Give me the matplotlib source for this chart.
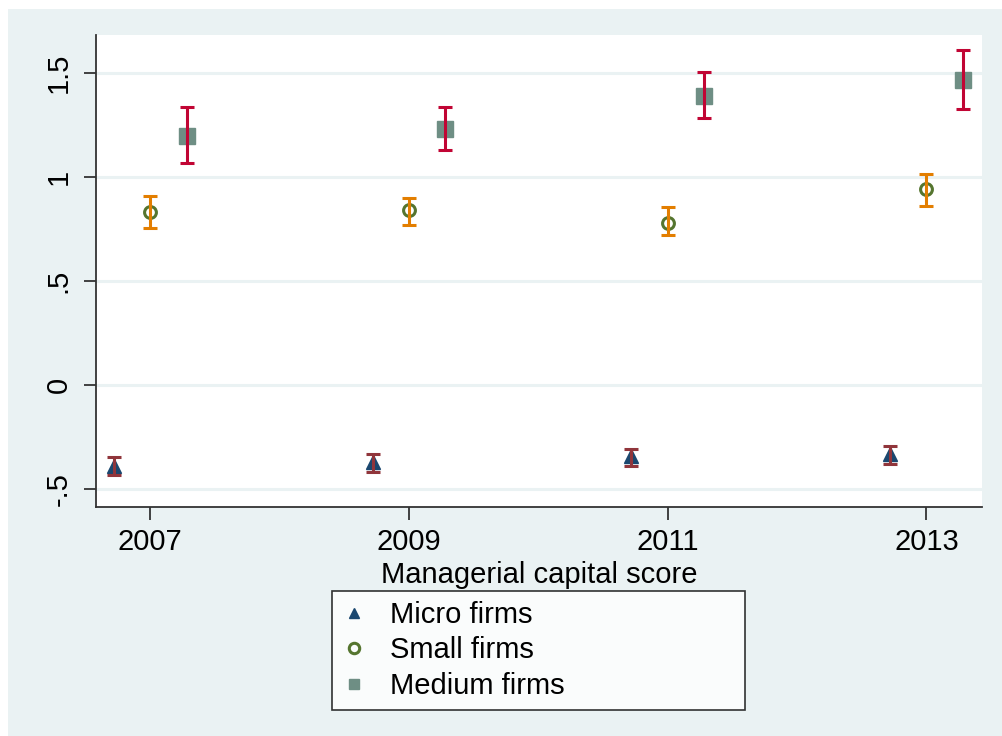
import matplotlib.pyplot as plt
from matplotlib.patches import Rectangle

plt.rcParams['font.family'] = ['Liberation Sans', 'DejaVu Sans']

YEARS = [2007, 2009, 2011, 2013]

MICRO = [-0.39, -0.37, -0.34, -0.33]
MICRO_LO = [-0.433, -0.42, -0.39, -0.38]
MICRO_HI = [-0.346, -0.33, -0.31, -0.295]

SMALL = [0.83, 0.84, 0.78, 0.94]
SMALL_LO = [0.755, 0.77, 0.72, 0.86]
SMALL_HI = [0.91, 0.90, 0.855, 1.014]

MEDIUM = [1.197, 1.23, 1.39, 1.466]
MEDIUM_LO = [1.067, 1.13, 1.284, 1.327]
MEDIUM_HI = [1.336, 1.336, 1.505, 1.61]

BG = '#eaf2f3'
FS = 21

fig = plt.figure(figsize=(10.02, 7.36), dpi=100)
fig.patch.set_facecolor('white')
fig.patches.append(Rectangle((8 / 1002, 0), 1, 1 - 9 / 736, transform=fig.transFigure,
                             facecolor=BG, edgecolor='none', zorder=-10))

ax = fig.add_axes([96 / 1002, 1 - 507 / 736, (982 - 96) / 1002, (507 - 35) / 736])
ax.set_facecolor('white')


def draw(offset, vals, lo, hi, bar_color, **mk):
    xs = [y + offset for y in YEARS]
    err = [[v - l for v, l in zip(vals, lo)], [h - v for v, h in zip(vals, hi)]]
    ax.errorbar(xs, vals, yerr=err, fmt='none', ecolor=bar_color, elinewidth=2.2,
                capsize=5.2, capthick=2.2, zorder=5)
    return ax.plot(xs, vals, linestyle='none', zorder=4, **mk)[0]


h1 = draw(-0.28, MICRO, MICRO_LO, MICRO_HI, '#90353b',
          marker='^', markersize=9.5, color='#1a476f')
h2 = draw(0.0, SMALL, SMALL_LO, SMALL_HI, '#e37e00',
          marker='o', markersize=8.5, markerfacecolor='none', markeredgecolor='#55752f',
          markeredgewidth=2.2)
h3 = draw(0.28, MEDIUM, MEDIUM_LO, MEDIUM_HI, '#c10534',
          marker='s', markersize=11, color='#6e8e84')

ax.set_xlim(2006.58, 2013.43)
ax.set_ylim(-0.587, 1.683)
ax.set_xticks(YEARS)
ax.set_yticks([-0.5, 0, 0.5, 1, 1.5])
ax.set_yticklabels(['-.5', '0', '.5', '1', '1.5'], rotation=90, va='center')
ax.tick_params(axis='both', labelsize=FS, length=9, width=1.3, color='#333333')
ax.tick_params(axis='y', pad=8)
ax.tick_params(axis='x', pad=6)
ax.grid(axis='y', color=BG, linewidth=2.2)
ax.set_axisbelow(True)
for s in ['top', 'right']:
    ax.spines[s].set_visible(False)
for s in ['left', 'bottom']:
    ax.spines[s].set_color('#333333')
    ax.spines[s].set_linewidth(1.3)

ax.set_xlabel('Managerial capital score', fontsize=FS, labelpad=4)

leg = fig.legend([h1, h2, h3], ['Micro firms', 'Small firms', 'Medium firms'],
                 loc='upper left', bbox_to_anchor=(332 / 1002, 1 - 591 / 736, 413 / 1002, 0),
                 mode='expand', fontsize=FS, frameon=True, fancybox=False, edgecolor='black',
                 handlelength=0.8, handletextpad=0.85, labelspacing=0.26,
                 borderpad=0.34, borderaxespad=0)
leg.get_frame().set_linewidth(1.2)
leg.get_frame().set_facecolor('white')
for h in leg.legend_handles:
    h.set_markersize(7.5)

fig.savefig('out.png', dpi=100, facecolor=fig.get_facecolor())
